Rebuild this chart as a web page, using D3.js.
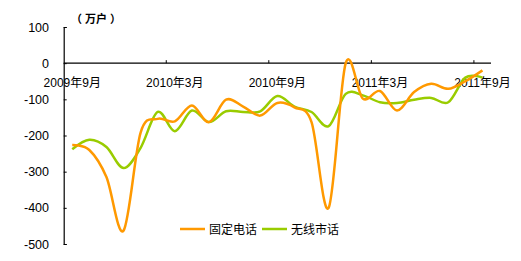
<!DOCTYPE html>
<html>
<head>
<meta charset="utf-8">
<script src="https://cdn.jsdelivr.net/npm/d3@7/dist/d3.min.js"></script>
<style>
  body { margin: 0; background: #fff; }
  text { font-family: "Liberation Sans", "Noto Sans CJK SC", sans-serif; fill: #000; }
</style>
</head>
<body>
<div id="chart"></div>
<script>
var months = ["2009年9月", "2009年10月", "2009年11月", "2009年12月", "2010年1月", "2010年2月",
    "2010年3月", "2010年4月", "2010年5月", "2010年6月", "2010年7月", "2010年8月",
    "2010年9月", "2010年10月", "2010年11月", "2010年12月", "2011年1月", "2011年2月",
    "2011年3月", "2011年4月", "2011年5月", "2011年6月", "2011年7月", "2011年8月", "2011年9月"];
var fixedLine = [-226, -240, -315, -463, -192, -154, -161, -117, -163, -101, -120, -145,
    -110, -122, -163, -400, 0, -98, -77, -131, -80, -57, -71, -50, -20];
var wirelessLocal = [-238, -212, -232, -290, -234, -135, -188, -131, -163, -133, -135, -133,
    -91, -120, -135, -174, -85, -89, -108, -110, -101, -96, -108, -40, -40];
var yTicks = [100, 0, -100, -200, -300, -400, -500];
var shownLabels = ["2009年9月", "2010年3月", "2010年9月", "2011年3月", "2011年9月"];
var seriesNames = ["固定电话", "无线市话"];
var seriesColors = ["#FF9900", "#99CC00"];

var width = 521, height = 261;
var svg = d3.select("#chart").append("svg")
    .attr("width", width)
    .attr("height", height);

var x = d3.scalePoint()
    .domain(months)
    .range([63.7, 491])
    .padding(0.5);
var step = x.step();

var y = d3.scaleLinear()
    .domain([-500, 100])
    .range([244, 27]);

// y axis, ticks pointing inward
var yAxis = d3.axisRight(y).tickValues(yTicks).tickSize(3).tickFormat("");
svg.append("g")
    .attr("transform", "translate(63.7,0)")
    .call(yAxis)
    .call(function (g) {
        g.select(".domain").attr("stroke", "#000").attr("stroke-width", 1.2);
        g.selectAll(".tick line").attr("stroke", "#000");
    });

svg.selectAll(".ylab")
    .data(yTicks)
    .enter()
    .append("text")
    .attr("class", "ylab")
    .attr("x", 49)
    .attr("y", function (d) { return y(d) + 4.5; })
    .attr("text-anchor", "end")
    .style("font-size", "12.5px")
    .text(function (d) { return d; });

// x axis along zero
svg.append("line")
    .attr("x1", 63.7).attr("x2", 491)
    .attr("y1", y(0)).attr("y2", y(0))
    .attr("stroke", "#000").attr("stroke-width", 1.2);

svg.selectAll(".xtick")
    .data([6, 12, 18, 24])
    .enter()
    .append("line")
    .attr("class", "xtick")
    .attr("x1", function (i) { return x(months[i]) - step / 2; })
    .attr("x2", function (i) { return x(months[i]) - step / 2; })
    .attr("y1", y(0))
    .attr("y2", y(0) - 3)
    .attr("stroke", "#000");

svg.selectAll(".xlab")
    .data(shownLabels)
    .enter()
    .append("text")
    .attr("class", "xlab")
    .attr("x", function (d) { return x(d); })
    .attr("y", y(0) + 24)
    .attr("text-anchor", "middle")
    .style("font-size", "12px")
    .text(function (d) { return d; });

// unit label
svg.append("text")
    .attr("x", 71)
    .attr("y", 23)
    .style("font-size", "11px")
    .style("font-weight", "bold")
    .text("（ 万户 ）");

var line = d3.line()
    .x(function (d, i) { return x(months[i]); })
    .y(function (d) { return y(d); })
    .curve(d3.curveCardinal.tension(0));

[wirelessLocal, fixedLine].forEach(function (vals) {
    var idx = vals === fixedLine ? 0 : 1;
    svg.append("path")
        .datum(vals)
        .attr("fill", "none")
        .attr("stroke", seriesColors[idx])
        .attr("stroke-width", 2.5)
        .attr("d", line);
});

// legend
var legendX = [180, 262];
var legend = svg.selectAll(".legend")
    .data(seriesNames)
    .enter()
    .append("g")
    .attr("class", "legend")
    .attr("transform", function (d, i) { return "translate(" + legendX[i] + ",229)"; });

legend.append("line")
    .attr("x1", 0).attr("x2", 25)
    .attr("y1", 0).attr("y2", 0)
    .attr("stroke", function (d, i) { return seriesColors[i]; })
    .attr("stroke-width", 2.5);

legend.append("text")
    .attr("x", 29)
    .attr("y", 5)
    .style("font-size", "12px")
    .text(function (d) { return d; });
</script>
</body>
</html>
